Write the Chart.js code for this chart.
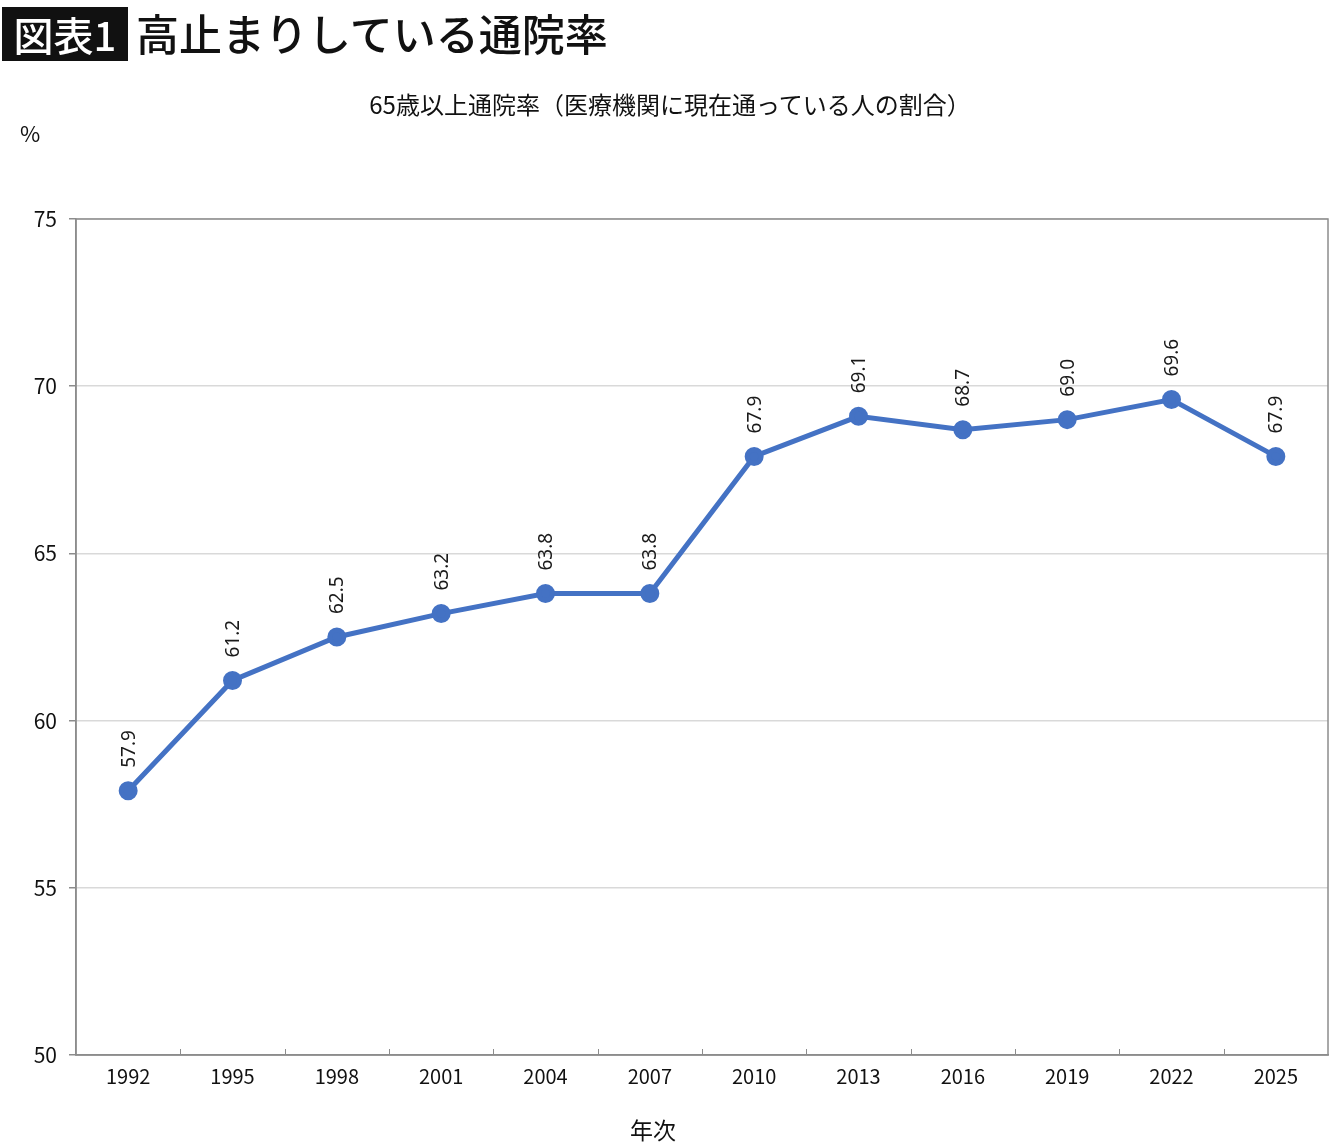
<!DOCTYPE html>
<html lang="ja">
<head>
<meta charset="utf-8">
<script src="https://cdn.jsdelivr.net/npm/chart.js@4.4.1/dist/chart.umd.min.js"></script>
<style>
	html, body { margin: 0; padding: 0; background: #fff; }
	body { width: 1340px; height: 1148px; position: relative; overflow: hidden; font-family: "Noto Sans CJK JP", sans-serif; }
	#chart { position: absolute; left: 0; top: 0; }
	.abs { position: absolute; white-space: nowrap; line-height: 1; }
	#badge { left: 2px; top: 7px; width: 126px; height: 54px; background: #111; color: #fff; font-size: 40px; font-weight: 500; text-align: center; line-height: 54px; }
	#heading { left: 136px; top: 11px; font-size: 43px; font-weight: 500; color: #111; }
	#subtitle { left: 0; width: 1340px; text-align: center; top: 92px; font-size: 24px; color: #111; }
	#unit { left: 20px; top: 121px; font-size: 22px; color: #111; }
	#xtitle { left: 0; width: 1306px; text-align: center; top: 1118px; font-size: 23px; color: #111; }
</style>
</head>
<body>
<canvas id="chart" width="1340" height="1148"></canvas>
<div class="abs" id="badge">図表1</div>
<div class="abs" id="heading">高止まりしている通院率</div>
<div class="abs" id="subtitle">65歳以上通院率（医療機関に現在通っている人の割合）</div>
<div class="abs" id="unit">%</div>
<div class="abs" id="xtitle">年次</div>
<script>
var years = ['1992', '1995', '1998', '2001', '2004', '2007', '2010', '2013', '2016', '2019', '2022', '2025'];
var rates = [57.9, 61.2, 62.5, 63.2, 63.8, 63.8, 67.9, 69.1, 68.7, 69.0, 69.6, 67.9];
var yTicks = [50, 55, 60, 65, 70, 75];

var COLOR_LINE = '#4472C4';
var COLOR_AXIS = '#8c8c8c';
var COLOR_GRID = '#d9d9d9';
var FONT_CJK = '"Noto Sans CJK JP", sans-serif';

// frame round the plot area + small inner tick marks on the x axis
var framePlugin = {
	id: 'frame',
	afterDraw: function(chart) {
		var a = chart.chartArea, ctx = chart.ctx, xs = chart.scales.x;
		ctx.save();
		ctx.strokeStyle = COLOR_AXIS;
		ctx.lineWidth = 1.5;
		ctx.strokeRect(a.left, a.top, a.right - a.left, a.bottom - a.top);
		ctx.lineWidth = 1;
		for (var i = 1; i < years.length; i++) {
			var x = Math.round((xs.getPixelForValue(i - 1) + xs.getPixelForValue(i)) / 2) + 0.5;
			ctx.beginPath();
			ctx.moveTo(x, a.bottom);
			ctx.lineTo(x, a.bottom - 6);
			ctx.stroke();
		}
		ctx.restore();
	}
};

// vertical value labels above each point
var labelPlugin = {
	id: 'vlabels',
	afterDatasetsDraw: function(chart) {
		var ctx = chart.ctx;
		var meta = chart.getDatasetMeta(0);
		ctx.save();
		ctx.fillStyle = '#1a1a1a';
		ctx.font = '19px "Noto Sans", sans-serif';
		ctx.textAlign = 'left';
		ctx.textBaseline = 'middle';
		meta.data.forEach(function(pt, i) {
			ctx.save();
			ctx.translate(pt.x + 1, pt.y - 23);
			ctx.rotate(-Math.PI / 2);
			ctx.fillText(rates[i].toFixed(1), 0, 0);
			ctx.restore();
		});
		ctx.restore();
	}
};

var ctx = document.getElementById('chart');
var rateChart = new Chart(ctx, {
	type: 'line',
	data: {
		labels: years,
		datasets: [{
			label: '65歳以上通院率',
			data: rates,
			borderColor: COLOR_LINE,
			backgroundColor: COLOR_LINE,
			borderWidth: 5,
			pointRadius: 7,
			pointBackgroundColor: COLOR_LINE,
			pointBorderColor: COLOR_LINE,
			tension: 0,
			clip: false
		}]
	},
	options: {
		responsive: false,
		animation: false,
		devicePixelRatio: 1,
		layout: { padding: { left: 0, right: 12, top: 219, bottom: 0 } },
		plugins: {
			legend: { display: false },
			tooltip: { enabled: false },
			title: { display: false }
		},
		scales: {
			x: {
				offset: true,
				grid: { display: true, drawOnChartArea: false, drawTicks: false, color: COLOR_AXIS },
				border: { color: COLOR_AXIS, width: 1.5 },
				ticks: { color: '#111', font: { family: FONT_CJK, size: 20 }, padding: 9, maxRotation: 0 },
				afterFit: function(scale) { scale.height = 93; }
			},
			y: {
				min: 50,
				max: 75,
				afterBuildTicks: function(scale) {
					scale.ticks = yTicks.map(function(v) { return { value: v }; });
				},
				grid: { color: COLOR_GRID, tickColor: COLOR_AXIS, tickLength: 7, lineWidth: 1.5 },
				border: { color: COLOR_AXIS, width: 1.5 },
				ticks: { color: '#111', font: { family: FONT_CJK, size: 21 }, padding: 12 },
				afterFit: function(scale) { scale.width = 76; }
			}
		}
	},
	plugins: [framePlugin, labelPlugin]
});
</script>
</body>
</html>
